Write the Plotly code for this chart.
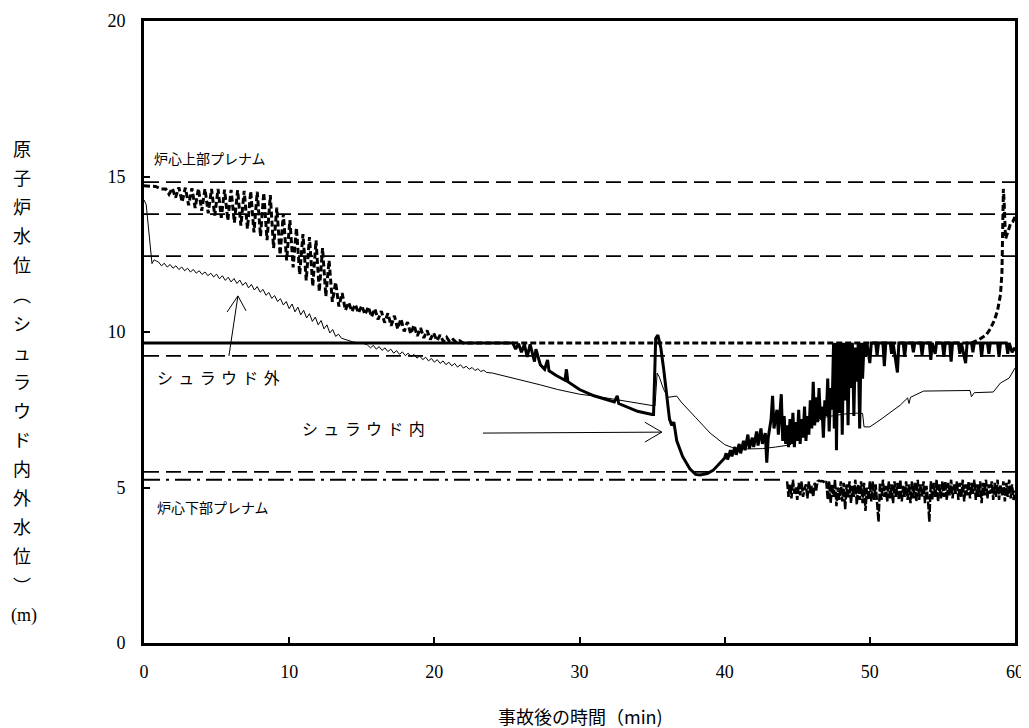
import numpy as np
import plotly.graph_objects as go

# ---------------- data ----------------
# reference (gauge range) levels, m
ref_levels = [14.82, 13.79, 12.44, 9.23, 5.50]

# shroud outside water level (thin line)
out_head_t = [0.0, 0.15, 0.55, 0.7, 0.85]
out_head_v = [14.25, 14.1, 12.2, 12.32, 12.28]
out_teeth1_t0, out_teeth_dt = 1.0, 0.2
out_teeth1_v = [12.25, 12.13, 12.21, 12.09, 12.17, 12.05, 12.13, 12.01, 12.09, 11.97, 12.05,
                11.93, 12.01, 11.89, 11.97, 11.85, 11.93, 11.81, 11.89, 11.77, 11.86,
                11.71, 11.81, 11.66, 11.76, 11.61, 11.72, 11.56, 11.67, 11.50, 11.60,
                11.42, 11.53, 11.35, 11.46, 11.28, 11.37, 11.18, 11.27, 11.08, 11.17,
                10.98, 11.07, 10.87, 10.98, 10.75, 10.90, 10.65, 10.80, 10.55, 10.70,
                10.45, 10.59, 10.34, 10.48, 10.23, 10.37, 10.10, 10.23, 9.97, 10.08,
                9.86, 9.93, 9.80]
out_mid_t = [13.8, 14.0, 14.4, 14.8, 15.2, 15.4]
out_mid_v = [9.78, 9.74, 9.68, 9.66, 9.62, 9.58]
out_teeth2_t0 = 15.6
out_teeth2_v = [9.49, 9.57, 9.45, 9.53, 9.41, 9.49, 9.37, 9.45, 9.32, 9.40, 9.28,
                9.36, 9.24, 9.32, 9.20, 9.28, 9.16, 9.23, 9.11, 9.19, 9.07, 9.15,
                9.03, 9.11, 8.99, 9.07, 8.95, 9.03, 8.91, 8.99, 8.87, 8.95, 8.84,
                8.90, 8.80, 8.86, 8.76, 8.82, 8.73, 8.77, 8.70]
out_tail_t = [24.0, 25.0, 26.0, 27.3, 28.5, 30.0, 31.2, 33.0, 35.1, 35.2, 35.35, 35.5, 35.8,
              36.1, 36.7, 37.0, 38.0, 39.0, 40.0, 40.6, 41.5, 42.6, 43.5, 44.5, 45.5, 46.1,
              47.0, 48.2, 49.1, 49.5, 49.6, 50.0, 50.7, 51.4, 52.1, 52.6, 52.7, 52.8, 53.7,
              56.9, 57.0, 57.2, 58.5, 59.0, 59.6, 60.0]
out_tail_v = [8.68, 8.57, 8.45, 8.30, 8.15, 8.00, 7.93, 7.80, 7.64, 7.62, 8.68, 8.55, 8.15,
              7.90, 7.94, 7.75, 7.25, 6.75, 6.38, 6.27, 6.24, 6.25, 6.30, 6.37, 6.75, 7.07,
              7.27, 7.36, 7.39, 7.38, 6.95, 6.95, 7.17, 7.40, 7.65, 7.88, 7.70, 7.90, 8.10,
              8.12, 7.92, 8.05, 8.07, 8.36, 8.52, 8.84]

# shroud inside water level (thick line)
in_main_t = [0, 25.4, 25.6, 25.8, 26.0, 26.2, 26.4, 26.6, 26.9, 27.0,
             27.3, 27.6, 27.8, 27.9, 28.4, 29.0, 29.1, 29.2, 30.0, 31.0,
             32.4, 32.6, 32.7, 34.0, 35.0, 35.1, 35.25, 35.4, 35.5, 35.6,
             35.8, 36.0, 36.2, 36.35, 36.5, 36.7, 37.1, 37.6, 38.0, 38.3,
             38.8, 39.2, 39.5, 39.8, 40.0]
in_main_v = [9.65, 9.65, 9.45, 9.62, 9.35, 9.6, 9.2, 9.6, 9.05, 9.45,
             8.95, 8.8, 9.1, 8.75, 8.6, 8.45, 8.8, 8.4, 8.15, 7.95,
             7.75, 7.95, 7.7, 7.45, 7.35, 7.35, 9.8, 9.9, 9.7, 9.5,
             8.8, 7.9, 7.2, 7.0, 7.1, 6.5, 6.0, 5.6, 5.42, 5.4,
             5.45, 5.55, 5.7, 5.85, 5.95]
in_noise_t = [40.1, 40.2, 40.4, 40.5, 40.7, 40.8, 41.0, 41.1, 41.3, 41.4,
              41.6, 41.7, 41.9, 42.0, 42.2, 42.3, 42.5, 42.6, 42.8, 42.9,
              43.0, 43.2, 43.3, 43.4, 43.6, 43.7, 43.9, 44.0, 44.1, 44.2,
              44.3, 44.4, 44.5, 44.6, 44.7, 44.8, 44.9, 45.0, 45.1, 45.2,
              45.3, 45.4, 45.5, 45.6, 45.7, 45.8, 45.9, 46.0, 46.1, 46.2,
              46.3, 46.4, 46.5, 46.6, 46.7, 46.8, 46.9, 47.0, 47.1, 47.2,
              47.3, 47.4, 47.5, 47.55, 47.65, 47.7, 47.8, 47.9, 48.0, 48.1,
              48.2, 48.3, 48.4, 48.5, 48.6, 48.7, 48.8, 48.9, 49.0, 49.1,
              49.2, 49.3, 49.4, 49.5, 49.6, 49.7, 49.8, 50.0, 50.1, 50.4,
              50.5, 50.6, 50.9, 51.0, 51.1, 51.4, 51.5, 51.6, 51.9, 52.0,
              52.3, 52.4, 52.5, 52.9, 53.0, 53.1, 53.5, 53.6, 53.7, 54.1,
              54.2, 54.3, 54.5, 54.6, 55.0, 55.1, 55.2, 55.5, 55.6, 55.7,
              56.1, 56.2, 56.3, 56.6, 56.7, 57.0, 57.1, 57.2, 57.6, 57.7,
              57.8, 58.1, 58.2, 58.3, 58.8, 58.9, 59.0, 59.4, 59.5, 59.6,
              59.8, 60.0]
in_noise_v = [6.1, 5.9, 6.2, 6.0, 6.3, 6.05, 6.4, 6.1, 6.5, 6.2,
              6.7, 6.25, 6.6, 6.3, 6.8, 6.35, 6.9, 6.4, 6.75, 5.8,
              6.6, 7.2, 7.95, 6.9, 7.5, 6.7, 8.0, 6.5, 7.3, 6.4,
              7.0, 6.3, 7.2, 6.4, 7.4, 6.3, 7.1, 6.5, 7.5, 6.4,
              7.2, 6.6, 7.6, 6.5, 7.3, 6.7, 7.8, 6.9, 8.4, 7.0,
              7.9, 7.1, 8.2, 7.2, 7.6, 6.6, 7.8, 7.3, 8.5, 6.8,
              8.2, 7.5, 9.65, 6.9, 9.65, 6.2, 9.65, 7.4, 9.65, 6.7,
              9.65, 7.8, 9.65, 7.0, 9.65, 8.2, 9.65, 7.3, 9.5, 8.4,
              9.65, 6.9, 9.65, 8.5, 9.65, 9.2, 9.65, 9.0, 9.65, 9.65,
              9.25, 9.65, 9.65, 8.9, 9.65, 9.65, 9.3, 9.65, 8.7, 9.65,
              9.65, 9.2, 9.65, 9.65, 9.35, 9.65, 9.65, 9.25, 9.65, 9.65,
              9.1, 9.65, 9.3, 9.65, 9.65, 9.2, 9.65, 9.65, 9.05, 9.65,
              9.65, 9.3, 9.65, 9.0, 9.65, 9.65, 9.35, 9.65, 9.65, 9.2,
              9.65, 9.65, 9.3, 9.65, 9.65, 9.2, 9.65, 9.65, 9.3, 9.65,
              9.35, 9.5]

# wide-range level indication (thick dotted line)
wr_head_t = [0.0, 0.8, 1.2]
wr_head_v = [14.7, 14.68, 14.6]
wr_osc_t0, wr_osc_dt = 1.5, 0.225
wr_osc_v = [14.6, 14.43, 14.62, 14.32, 14.65, 14.18, 14.64, 14.08, 14.62, 13.99,
            14.61, 13.9, 14.6, 13.82, 14.6, 13.74, 14.6, 13.67, 14.58, 13.59,
            14.57, 13.52, 14.56, 13.42, 14.54, 13.32, 14.53, 13.2, 14.51, 13.08,
            14.48, 12.95, 14.4, 12.7, 14.0, 12.48, 13.8, 12.3, 13.6, 12.08,
            13.35, 11.85, 13.15, 11.66, 13.05, 11.47, 12.95, 11.3, 12.7, 11.15,
            12.3, 10.97, 11.6, 10.82, 11.25, 10.7, 10.95, 10.66, 10.89, 10.61,
            10.85, 10.56, 10.81, 10.49, 10.75, 10.4, 10.67, 10.3, 10.6, 10.2,
            10.52, 10.1, 10.42, 10.02, 10.32, 9.94, 10.22, 9.87, 10.13, 9.81,
            10.05, 9.76, 9.97, 9.72, 9.9, 9.69, 9.83, 9.67, 9.76, 9.66,
            9.72, 9.65]
wr_tail_t = [22.4, 57.0, 57.5, 58.0, 58.3, 58.6, 58.8, 59.0, 59.1, 59.15, 59.2, 59.25,
             59.35, 59.5, 59.7, 59.85, 60.0]
wr_tail_v = [9.65, 9.65, 9.75, 9.9, 10.1, 10.4, 10.7, 11.2, 11.9, 12.8, 14.6, 14.2,
             13.0, 13.2, 13.5, 13.55, 13.7]

# lower plenum indication (dash-dot line)
lp_head_t = [0.0, 44.2]
lp_head_v = [5.25, 5.25]
lp_noise_t0, lp_noise_dt = 44.3, 0.1
lp_noise_v = [5.2, 4.7, 5.1, 4.65, 5.25, 4.8, 5.0, 4.6, 5.15, 4.75, 5.2, 4.7, 4.95, 5.1, 4.65,
              5.2, 4.8, 5.05, 4.7, 5.15, 4.9,
              5.2, 5.22, 5.2, 5.21, 5.2, 5.15, 5.2,
              4.6, 5.2, 4.5, 5.1, 4.7, 5.25, 4.4, 5.0, 4.6, 5.2, 4.55, 5.15, 4.3, 5.1, 4.65,
              5.2, 4.5, 5.05, 4.7, 5.25, 4.45, 5.1, 4.6, 5.2, 4.5, 5.15, 4.25, 5.0, 4.6, 5.2,
              4.55, 5.2, 4.6, 5.1, 4.5, 3.9, 5.15, 4.6, 5.25, 4.7, 5.05, 4.55, 5.2, 4.65, 5.1,
              4.5, 5.2, 4.7, 5.15, 4.6, 5.25, 4.55, 5.05, 4.7, 5.2, 4.6, 5.1, 4.5, 5.2, 4.65,
              5.15, 4.55, 5.25, 4.6, 5.1, 4.7, 5.2, 4.5, 5.05, 4.65, 3.9, 5.2, 4.6, 5.15, 4.7,
              5.25, 4.55, 5.1, 4.65, 5.2,
              4.7, 5.2, 4.6, 5.15, 4.75, 5.25, 4.65, 5.1, 4.8, 5.2, 4.6, 5.15, 4.7, 5.25, 4.55,
              5.1, 4.75, 5.2, 4.65, 5.15, 4.8, 5.25, 4.6, 5.1, 4.7, 5.2, 4.5, 5.15, 4.75, 5.25,
              4.65, 5.1, 4.8, 5.2, 4.6, 5.15, 4.7, 5.25, 4.6, 5.1, 4.75, 5.2, 4.55, 5.15, 4.7,
              5.25, 4.65, 5.1, 4.6, 4.9]

x_ticks = [0, 10, 20, 30, 40, 50, 60]
y_ticks = [0, 5, 10, 15, 20]

# ---------------- assemble ----------------
def grid(t0, dt, n):
    return list(np.round(t0 + dt * np.arange(n), 3))

out_t = (out_head_t + grid(out_teeth1_t0, out_teeth_dt, len(out_teeth1_v)) + out_mid_t
         + grid(out_teeth2_t0, out_teeth_dt, len(out_teeth2_v)) + out_tail_t)
out_v = out_head_v + out_teeth1_v + out_mid_v + out_teeth2_v + out_tail_v
in_t = in_main_t + in_noise_t
in_v = in_main_v + in_noise_v
wr_t = wr_head_t + grid(wr_osc_t0, wr_osc_dt, len(wr_osc_v)) + wr_tail_t
wr_v = wr_head_v + wr_osc_v + wr_tail_v
lp_noise_t = grid(lp_noise_t0, lp_noise_dt, len(lp_noise_v))

SERIF = "Liberation Serif, 'Noto Sans CJK JP', serif"
JP = "'Noto Sans CJK JP', sans-serif"

# page body has an 8 px margin: plot area target (in window px) left 144, top 21, w 871, h 622
OFF = 8
PL, PT, PW, PH = 144, 21, 871, 622
FIG_W, FIG_H = 1029 - OFF, 728 - OFF


def px(X):
    return (X - PL) / PW


def py(Y):
    return (PT + PH - Y) / PH


fig = go.Figure()
for lv in ref_levels:
    fig.add_trace(go.Scatter(x=[0, 60], y=[lv, lv], mode="lines",
                             line=dict(color="black", width=1.8, dash="15px,7px"),
                             hoverinfo="skip", showlegend=False))
fig.add_trace(go.Scatter(x=lp_head_t, y=lp_head_v, mode="lines",
                         line=dict(color="black", width=2, dash="16px,6px,3px,6px"),
                         showlegend=False))
fig.add_trace(go.Scatter(x=lp_noise_t, y=lp_noise_v, mode="lines",
                         line=dict(color="black", width=2.5, dash="8px,2px"),
                         showlegend=False))
fig.add_trace(go.Scatter(x=wr_t, y=wr_v, mode="lines",
                         line=dict(color="black", width=3, dash="6px,3px"),
                         showlegend=False))
fig.add_trace(go.Scatter(x=out_t, y=out_v, mode="lines",
                         line=dict(color="black", width=1), showlegend=False))
fig.add_trace(go.Scatter(x=in_t, y=in_v, mode="lines",
                         line=dict(color="black", width=3), showlegend=False))

# labels in plot
SP = "\u2004"
labels = [("炉心上部プレナム", 0.55, 15.6, 14), (SP.join("シュラウド外"), 0.76, 8.55, 16),
          (SP.join("シュラウド内"), 10.74, 6.91, 16), ("炉心下部プレナム", 0.76, 4.37, 14)]
for txt, lx, ly, fs in labels:
    fig.add_annotation(x=lx, y=ly, xref="x", yref="y", text=txt, showarrow=False,
                       xanchor="left", yanchor="middle", font=dict(family=JP, size=fs, color="black"))

# arrows (shaft + open head)
arrow_shapes = [
    ("M 5.85,9.23 L 6.47,11.16", "M 5.72,10.64 L 6.47,11.16 L 7.03,10.68"),
    ("M 23.35,6.75 L 35.67,6.78", "M 34.5,7.1 L 35.67,6.78 L 34.5,6.46"),
]
for shaft, head in arrow_shapes:
    fig.add_shape(type="path", path=shaft, xref="x", yref="y", line=dict(color="black", width=1))
    fig.add_shape(type="path", path=head, xref="x", yref="y", line=dict(color="black", width=1))

# y title, stacked vertically one character per line
ytitle_chars = list("原子炉水位︵シュラウド内外水位︶")
for i, ch in enumerate(ytitle_chars):
    fig.add_annotation(x=px(22), y=py(148 + 29.1 * i), xref="paper", yref="paper", text=ch,
                       showarrow=False, xanchor="center", yanchor="middle",
                       font=dict(family=JP, size=18, color="black"))
fig.add_annotation(x=px(24), y=py(615), xref="paper", yref="paper", text="(m)", showarrow=False,
                   xanchor="center", yanchor="middle", font=dict(family=SERIF, size=18, color="black"))
# x title
fig.add_annotation(x=px(580), y=py(716), xref="paper", yref="paper", text="事故後の時間（min)",
                   showarrow=False, xanchor="center", yanchor="middle",
                   font=dict(family=JP, size=18, color="black"))

axis_common = dict(showline=True, linewidth=3, linecolor="black", mirror=True,
                   ticks="inside", ticklen=6, tickwidth=2, tickcolor="black",
                   showgrid=False, zeroline=False, automargin=False,
                   tickfont=dict(family=SERIF, size=18, color="black"))
fig.update_xaxes(range=[0, 60], tickvals=x_ticks, ticklabelstandoff=10, **axis_common)
fig.update_yaxes(range=[0, 20], tickvals=y_ticks, ticklabelstandoff=12, **axis_common)

fig.update_layout(width=FIG_W, height=FIG_H,
                  margin=dict(l=PL - OFF, r=FIG_W - (PL - OFF) - PW, t=PT - OFF,
                              b=FIG_H - (PT - OFF) - PH),
                  paper_bgcolor="white", plot_bgcolor="white", showlegend=False)

fig.write_html("out.html")
